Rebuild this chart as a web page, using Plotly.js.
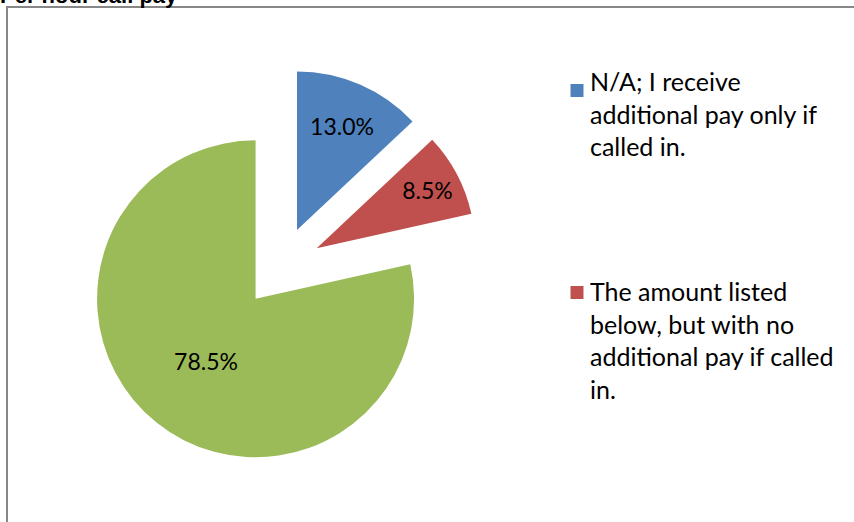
<!DOCTYPE html>
<html>
<head>
<meta charset="utf-8">
<script src="https://cdn.plot.ly/plotly-3.0.1.min.js"></script>
<style>
  html, body { margin: 0; padding: 0; background: #ffffff; overflow: hidden; }
  #chart { width: 854px; height: 522px; }
</style>
</head>
<body>
<div id="chart"></div>
<script>
// ---- data ----
const chartTitle = "Per hour call pay";
const categories = [
  "N/A; I receive additional pay only if called in.",
  "The amount listed below, but with no additional pay if called in.",
  "The amount listed below, plus additional pay if called in."
];
const legendLines = [
  ["N/A; I receive", "additional pay only if", "called in."],
  ["The amount listed", "below, but with no", "additional pay if called", "in."]
];
const percentValues = [13.0, 8.5, 78.5];
const sliceColors = ["#4F81BD", "#C0504D", "#9BBB59"];

// ---- layout helpers ----
const W = 854, H = 522;
const px = x => x / W;
const py = y => 1 - y / H;

const pieTrace = {
  type: "pie",
  labels: categories,
  values: percentValues,
  sort: false,
  direction: "clockwise",
  rotation: 0,
  pull: [0.2555, 0.2555, 0.2555],
  marker: { colors: sliceColors, line: { width: 0 } },
  texttemplate: "%{percent:.1%}",
  textposition: "inside",
  insidetextorientation: "horizontal",
  insidetextfont: { family: "Lato, 'Liberation Sans', sans-serif", size: 23, color: "#000000" },
  hoverinfo: "label+percent",
  showlegend: false,
  domain: { x: [px(81.9), px(479.9)], y: [py(466.2), py(68.2)] }
};

const legendTops = [64, 274];
const legendSquares = [[84, 97], [286, 299]];

const annotations = [
  {
    text: "<b>" + chartTitle + "</b>",
    xref: "paper", yref: "paper",
    x: px(-2), y: py(-4.5),
    xanchor: "left", yanchor: "middle",
    showarrow: false,
    font: { family: "'Liberation Sans', Arial, sans-serif", size: 22, color: "#000000" }
  }
];
const shapes = [
  // chart area border (extends past right and bottom edges)
  {
    type: "rect", xref: "paper", yref: "paper",
    x0: px(7), x1: px(870), y0: py(540), y1: py(7),
    line: { color: "#878787", width: 2 }, fillcolor: "rgba(0,0,0,0)", layer: "below"
  }
];

legendLines.forEach((lines, i) => {
  annotations.push({
    text: lines.join("<br>"),
    xref: "paper", yref: "paper",
    x: px(588), y: py(legendTops[i]),
    xanchor: "left", yanchor: "top", align: "left",
    showarrow: false,
    font: { family: "Lato, 'Liberation Sans', sans-serif", size: 25, color: "#000000" }
  });
  shapes.push({
    type: "rect", xref: "paper", yref: "paper",
    x0: px(570.5), x1: px(583.5), y0: py(legendSquares[i][1]), y1: py(legendSquares[i][0]),
    line: { width: 0 }, fillcolor: sliceColors[i]
  });
});

const layout = {
  width: W, height: H,
  margin: { l: 0, r: 0, t: 0, b: 0 },
  paper_bgcolor: "#ffffff",
  plot_bgcolor: "#ffffff",
  showlegend: false,
  annotations: annotations,
  shapes: shapes
};

Plotly.newPlot("chart", [pieTrace], layout, { displayModeBar: false, staticPlot: true });
</script>
</body>
</html>
